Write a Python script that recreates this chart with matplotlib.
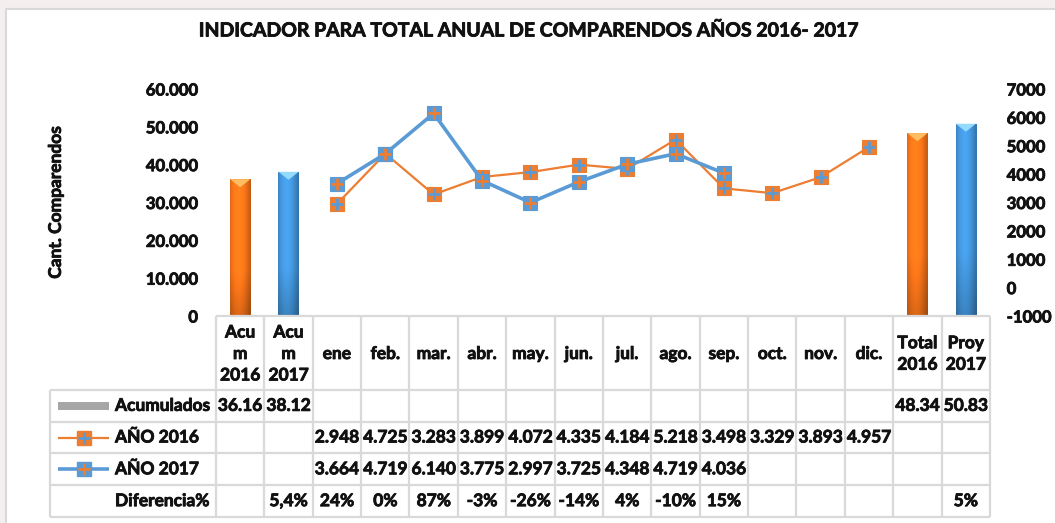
import matplotlib
matplotlib.use('Agg')
import matplotlib.pyplot as plt
import matplotlib.patheffects as pe
import numpy as np
from matplotlib.patches import Rectangle, Polygon

# ---------------- data ----------------
categories = ['Acu\nm\n2016', 'Acu\nm\n2017', 'ene', 'feb.', 'mar.', 'abr.', 'may.',
              'jun.', 'jul.', 'ago.', 'sep.', 'oct.', 'nov.', 'dic.', 'Total\n2016', 'Proy\n2017']
nan = np.nan
acumulados = [36160, 38120, nan, nan, nan, nan, nan, nan, nan, nan, nan, nan, nan, nan, 48340, 50830]
anio2016 = [nan, nan, 2948, 4725, 3283, 3899, 4072, 4335, 4184, 5218, 3498, 3329, 3893, 4957, nan, nan]
anio2017 = [nan, nan, 3664, 4719, 6140, 3775, 2997, 3725, 4348, 4719, 4036, nan, nan, nan, nan, nan]
diferencia = ['', '5,4%', '24%', '0%', '87%', '-3%', '-26%', '-14%', '4%', '-10%', '15%',
              '', '', '', '', '5%']
left_ticks = [0, 10000, 20000, 30000, 40000, 50000, 60000]
right_ticks = [-1000, 0, 1000, 2000, 3000, 4000, 5000, 6000, 7000]
title = 'INDICADOR PARA TOTAL ANUAL DE COMPARENDOS AÑOS 2016- 2017'
ylabel = 'Cant. Comparendos'
row_labels = ['Acumulados', 'AÑO 2016', 'AÑO 2017', 'Diferencia%']

# ---------------- style ----------------
ORANGE = '#ED7D31'
BLUE = '#5B9BD5'
GRID = '#d9d9d9'
TXT = '#111111'
plt.rcParams['font.family'] = ['Lato', 'DejaVu Sans']
plt.rcParams['font.weight'] = 'bold'
BOLD = [pe.withStroke(linewidth=0.6, foreground=TXT)]
tkw = dict(fontweight='bold', color=TXT, path_effects=BOLD)

W, H = 1055, 523
fig = plt.figure(figsize=(W / 100, H / 100), dpi=100)
fig.patch.set_facecolor('#f4eeee')

# white chart area with thin border
bg = fig.add_axes([0, 0, 1, 1])
bg.set_xlim(0, W); bg.set_ylim(H, 0); bg.axis('off')
bg.add_patch(Rectangle((5.5, 8.5), W, H, facecolor='white', edgecolor=GRID, lw=1.5))

# plot area in pixels
PX0, PX1, PY0, PY1 = 216, 990, 89, 316
ax = fig.add_axes([PX0 / W, (H - PY1) / H, (PX1 - PX0) / W, (PY1 - PY0) / H])
ax.patch.set_alpha(0)
n = len(categories)
x = np.arange(n)
ax.set_xlim(-0.5, n - 0.5)
ax.set_ylim(left_ticks[0], left_ticks[-1])
ax2 = ax.twinx()
ax2.set_ylim(right_ticks[0], right_ticks[-1])
for a in (ax, ax2):
    for s in a.spines.values():
        s.set_visible(False)
    a.tick_params(length=0)
ax.set_xticks([])
ax.set_yticks(left_ticks)
ax.set_yticklabels([f'{v:,}'.replace(',', '.') for v in left_ticks], fontsize=12, **tkw)
ax.tick_params(axis='y', pad=13)
ax2.set_yticks(right_ticks)
ax2.set_yticklabels([str(v) for v in right_ticks], fontsize=12, **tkw)
ax2.tick_params(axis='y', pad=12)
ax.set_ylabel(ylabel, fontsize=12.5, labelpad=59, **tkw)

# ---------------- bars with gradient ----------------
acum = np.array(acumulados, dtype=float)
bars = ax.bar(x, np.nan_to_num(acum), width=0.42, color='none', edgecolor='none')
unit_per_px = (left_ticks[-1] - left_ticks[0]) / (PY1 - PY0)
xs = np.linspace(0, 1, 60)
ys = np.linspace(0, 1, 200)
hprof = 0.78 + 0.30 * np.sin(np.pi * np.clip(xs * 0.95 + 0.10, 0, 1))
vprof = 0.80 + 0.20 * np.clip(ys * 3, 0, 1)
for i, b in enumerate(bars):
    if np.isnan(acum[i]):
        continue
    if '2016' in categories[i]:
        base = np.array([1.0, 0.47, 0.10]); light = np.array([1.0, 0.76, 0.40])
    else:
        base = np.array([0.27, 0.60, 0.88]); light = np.array([0.60, 0.87, 1.0])
    img = np.clip(base[None, None, :] * hprof[None, :, None] * vprof[:, None, None], 0, 1)
    x0, w, h = b.get_x(), b.get_width(), b.get_height()
    im = ax.imshow(img, extent=(x0, x0 + w, 0, h), origin='lower', aspect='auto',
                   interpolation='bilinear', zorder=2)
    clip = Rectangle((x0, 0), w, h, transform=ax.transData, facecolor='none', edgecolor='none')
    ax.add_patch(clip)
    im.set_clip_path(clip)
    d = 8 * unit_per_px
    ax.add_patch(Polygon([(x0, h), (x0 + w, h), (x0 + w / 2, h - d)], closed=True,
                         facecolor=light, edgecolor='none', zorder=3, alpha=0.95))
ax.set_xlim(-0.5, n - 0.5)
ax.set_ylim(left_ticks[0], left_ticks[-1])

# ---------------- lines ----------------
def draw_series(a, vals, col, other, lw, z):
    a.plot(x, vals, color=col, lw=lw, zorder=z, solid_capstyle='round')
    a.plot(x, vals, ls='none', marker='s', ms=10, mfc=col, mec=col, mew=0.8, zorder=z + 0.1)
    a.plot(x, vals, ls='none', marker='+', ms=8, mec=other, mew=2, zorder=z + 0.2)

draw_series(ax2, anio2016, ORANGE, BLUE, 1.6, 3)
draw_series(ax2, anio2017, BLUE, ORANGE, 2.6, 4)

# ---------------- data table ----------------
TX0, TY0, TY1 = 50, 316, 517
colw = (PX1 - PX0) / n
xl = -0.5 - (PX0 - TX0) / colw
tab = fig.add_axes([TX0 / W, (H - TY1) / H, (PX1 - TX0) / W, (TY1 - TY0) / H])
tab.set_xlim(xl, n - 0.5)
tab.set_ylim(TY1 - TY0, 0)
tab.axis('off')
rows_y = [0, 74, 105.7, 137.3, 169.3, 201]
lkw = dict(color=GRID, lw=1.6, clip_on=False, solid_capstyle='butt')
tab.plot([-0.5, n - 0.5], [rows_y[0], rows_y[0]], **lkw)
for yy in rows_y[1:]:
    tab.plot([xl, n - 0.5], [yy, yy], **lkw)
for i in range(n + 1):
    tab.plot([i - 0.5, i - 0.5], [rows_y[0], rows_y[-1]], **lkw)
tab.plot([xl, xl], [rows_y[1], rows_y[-1]], **lkw)

fs = 12.5
for i, c in enumerate(categories):
    tab.text(i, rows_y[1] / 2 + 1, c, ha='center', va='center', fontsize=fs,
             linespacing=1.42, **tkw)

def fmt_k(v):
    return f'{int(v):,}'.replace(',', '.')

row_texts = [
    ['' if np.isnan(v) else f'{v / 1000:.2f}' for v in acumulados],
    ['' if np.isnan(v) else fmt_k(v) for v in anio2016],
    ['' if np.isnan(v) else fmt_k(v) for v in anio2017],
    diferencia,
]
for r, texts in enumerate(row_texts):
    yc = (rows_y[r + 1] + rows_y[r + 2]) / 2
    for i, t in enumerate(texts):
        if t:
            tab.text(i, yc, t, ha='center', va='center', fontsize=fs, **tkw)
    tab.text(xl + 65 / colw, yc, row_labels[r], ha='left', va='center', fontsize=fs, **tkw)

# legend keys
k0, k1 = xl + 8 / colw, xl + 59 / colw
km = (k0 + k1) / 2
yc = (rows_y[1] + rows_y[2]) / 2
tab.add_patch(Rectangle((k0, yc - 4), k1 - k0, 8, facecolor='#a6a6a6', edgecolor='none'))
for r, (col, other, lw) in enumerate([(ORANGE, BLUE, 1.6), (BLUE, ORANGE, 2.6)]):
    yc = (rows_y[r + 2] + rows_y[r + 3]) / 2
    tab.plot([k0, k1], [yc, yc], color=col, lw=lw, solid_capstyle='butt')
    tab.plot([km], [yc], marker='s', ms=10, mfc=col, mec=col, ls='none')
    tab.plot([km], [yc], marker='+', ms=8, mec=other, mew=2, ls='none')

fig.text(530 / W, 1 - 31 / H, title, ha='center', va='center', fontsize=14, **tkw)

fig.savefig('out.png', dpi=100, facecolor=fig.get_facecolor())
